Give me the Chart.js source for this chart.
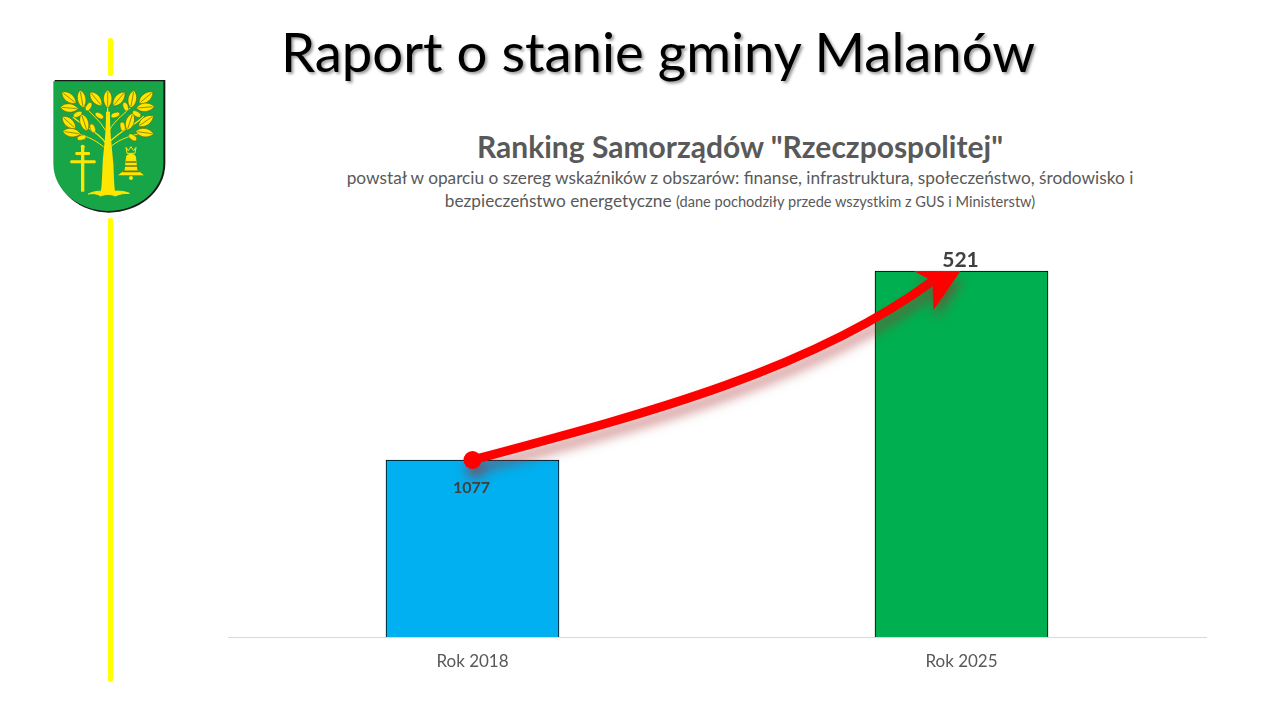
<!DOCTYPE html>
<html lang="pl">
<head>
<meta charset="utf-8">
<title>Raport o stanie gminy Malanów</title>
<script src="https://cdn.jsdelivr.net/npm/chart.js@4"></script>
<style>
    html, body { margin: 0; padding: 0; background: #fff; }
    body { position: relative; width: 1280px; height: 720px; overflow: hidden; font-family: Lato, sans-serif; }
    #wrap { position: absolute; left: 0; top: 0; width: 1280px; height: 720px; }
    .txt { position: absolute; white-space: nowrap; text-align: center; }
    #mainTitle { left: 240px; width: 836px; top: 20px; font-size: 54.5px; line-height: 62px; color: #000; text-shadow: 2px 2px 3px rgba(0,0,0,.4); }
    #chartTitle { left: 340px; width: 800px; top: 128px; font-size: 30px; line-height: 36px; font-weight: 700; color: #595959; }
    #sub1 { left: 340px; width: 800px; top: 166px; font-size: 17.25px; line-height: 24px; color: #595959; }
    #sub2 { left: 340px; width: 800px; top: 189px; font-size: 17.25px; line-height: 24px; color: #595959; }
    #sub2 small { font-size: 14.6px; }
    .yellow { position: absolute; left: 108px; width: 5px; background: #ffff00; border-radius: 2px; }
    #crest { position: absolute; left: 40px; top: 30px; width: 140px; height: 200px; }
</style>
</head>
<body>
<div class="yellow" style="top:38px;height:38px"></div>
<div class="yellow" style="top:218px;height:464px"></div>
<svg id="crest" viewBox="0 0 420 600">
    <defs>
        <g id="leaf"><path d="M-27 0 C-16 -17 14 -17 27 0 C14 17 -16 17 -27 0 Z" fill="#ffe600" stroke="#5f6e10" stroke-width="2"/><path d="M-22 0 L22 0" stroke="#5f6e10" stroke-width="2"/></g>
        <g id="nut"><ellipse rx="14" ry="7.5" fill="#ffe600" stroke="#5f6e10" stroke-width="1.5"/></g>
    </defs>
    <path d="M44 150 H376 V400 C376 490 290 548 207 548 C124 548 44 490 44 400 Z" fill="#1a1a1a"/>
    <path d="M40 154 H370 V400 C370 485 290 543 205 543 C120 543 40 485 40 400 Z" fill="#17a548"/>
    <g stroke="#ffe600" fill="none" stroke-linecap="round">
        <path d="M198 340 C170 300 130 290 100 262" stroke-width="4"/>
        <path d="M205 340 C240 300 280 290 310 260" stroke-width="4"/>
        <path d="M196 300 C180 270 150 250 130 225" stroke-width="3"/>
        <path d="M208 300 C225 270 255 250 280 225" stroke-width="3"/>
        <path d="M190 350 C160 325 130 315 100 308" stroke-width="3"/>
        <path d="M212 350 C240 325 280 315 310 308" stroke-width="3"/>
        <path d="M203 300 V220" stroke-width="4"/>
    </g>
    <path d="M198 245 L210 245 C210 320 216 345 220 400 C222 440 222 465 226 490 L182 490 C186 465 186 440 188 400 C192 345 198 320 198 245 Z" fill="#ffe600"/>
    <path d="M145 492 C165 482 185 482 205 486 C225 482 250 482 268 490 C250 490 238 492 226 498 C212 492 196 492 182 498 C170 490 158 490 145 492 Z" fill="#ffe600" stroke="#ffe600" stroke-width="3"/>
    <use href="#leaf" transform="translate(87,203) rotate(38)"/>
    <use href="#leaf" transform="translate(125,207) rotate(80)"/>
    <use href="#leaf" transform="translate(168,207) rotate(50)"/>
    <use href="#leaf" transform="translate(203,207) rotate(90)"/>
    <use href="#leaf" transform="translate(237,207) rotate(-50)"/>
    <use href="#leaf" transform="translate(277,207) rotate(-80)"/>
    <use href="#leaf" transform="translate(318,203) rotate(-40)"/>
    <use href="#leaf" transform="translate(88,234) rotate(5)"/>
    <use href="#leaf" transform="translate(316,232) rotate(-5)"/>
    <use href="#leaf" transform="translate(87,278) rotate(42)"/>
    <use href="#leaf" transform="translate(133,278) rotate(72)"/>
    <use href="#leaf" transform="translate(270,275) rotate(-72)"/>
    <use href="#leaf" transform="translate(318,273) rotate(-35)"/>
    <use href="#leaf" transform="translate(95,308) rotate(8)"/>
    <use href="#leaf" transform="translate(314,308) rotate(8)"/>
    <use href="#nut" transform="translate(146,230) rotate(-60)"/>
    <use href="#nut" transform="translate(113,253) rotate(-25)"/>
    <use href="#nut" transform="translate(178,257) rotate(30)"/>
    <use href="#nut" transform="translate(226,255) rotate(-20)"/>
    <use href="#nut" transform="translate(257,230) rotate(70)"/>
    <use href="#nut" transform="translate(290,252) rotate(30)"/>
    <use href="#nut" transform="translate(125,323) rotate(-15)"/>
    <use href="#nut" transform="translate(158,295) rotate(70)"/>
    <use href="#nut" transform="translate(248,290) rotate(80)"/>
    <use href="#nut" transform="translate(278,322) rotate(35)"/>
    <g fill="#ffe600">
        <rect x="123" y="348" width="10" height="137"/>
        <rect x="106" y="366" width="44" height="9" rx="3"/>
        <rect x="91" y="391" width="76" height="9" rx="3"/>
        <circle cx="128" cy="350" r="6"/>
        <path d="M258 382 C258 368 288 368 288 382 L292 420 L312 436 H234 L254 420 Z"/>
        <circle cx="273" cy="444" r="6"/>
    </g>
    <path d="M257 396 H289 M255 408 H291 M248 424 H298" stroke="#6b7a10" stroke-width="5"/>
    <path d="M258 352 L265 362 L273 350 L281 362 L288 352 L285 370 H261 Z" fill="none" stroke="#ffe600" stroke-width="3"/>
</svg>
<div id="mainTitle" class="txt">Raport o stanie gminy Malanów</div>
<div id="chartTitle" class="txt">Ranking Samorządów "Rzeczpospolitej"</div>
<div id="sub1" class="txt">powstał w oparciu o szereg wskaźników z obszarów: finanse, infrastruktura, społeczeństwo, środowisko i</div>
<div id="sub2" class="txt">bezpieczeństwo energetyczne <small>(dane pochodziły przede wszystkim z GUS i Ministerstw)</small></div>
<div id="wrap"><canvas id="rankChart" width="1280" height="720"></canvas></div>
<script>
// Dane: miejsce w rankingu (mniej = lepiej, dlatego oś jest odwrócona)
const categories = ['Rok 2018', 'Rok 2025'];
const ranks = [1077, 521];
const barColors = ['#00b0f0', '#00b050'];
const axisTop = 429.8;
const axisBottom = 1597.7;

// Etykiety wartości: 2018 w środku słupka, 2025 nad słupkiem
const valueLabels = {
    id: 'valueLabels',
    afterDatasetsDraw(chart) {
        const ctx = chart.ctx;
        const bars = chart.getDatasetMeta(0).data;
        ctx.save();
        ctx.textAlign = 'center';
        ctx.textBaseline = 'middle';
        ctx.fillStyle = '#404040';
        ctx.font = 'bold 16px Lato';
        ctx.fillText(ranks[0], bars[0].x - 1, bars[0].y + 28);
        ctx.font = 'bold 21px Lato';
        ctx.fillText(ranks[1], bars[1].x - 1, bars[1].y - 11);
        ctx.restore();
    }
};

// Czerwona strzałka od słupka 2018 do słupka 2025
const arrow = {
    id: 'arrow',
    afterDraw(chart) {
        const ctx = chart.ctx;
        const bars = chart.getDatasetMeta(0).data;
        const s = { x: bars[0].x, y: bars[0].y };
        const e = { x: bars[1].x - 1, y: bars[1].y };
        ctx.save();
        ctx.shadowColor = 'rgba(165,40,40,0.55)';
        ctx.shadowBlur = 12;
        ctx.shadowOffsetX = 2;
        ctx.shadowOffsetY = 9;
        ctx.strokeStyle = '#ff0000';
        ctx.fillStyle = '#ff0000';
        ctx.lineWidth = 9;
        ctx.beginPath();
        ctx.moveTo(s.x, s.y);
        ctx.bezierCurveTo(s.x + 168, s.y - 45, e.x - 150, e.y + 100, e.x - 28, e.y + 10);
        ctx.stroke();
        ctx.beginPath();
        ctx.moveTo(e.x, e.y);
        ctx.lineTo(e.x - 47, e.y);
        ctx.lineTo(e.x - 28, e.y + 10);
        ctx.lineTo(e.x - 27, e.y + 39);
        ctx.closePath();
        ctx.fill();
        ctx.beginPath();
        ctx.arc(s.x, s.y, 9, 0, Math.PI * 2);
        ctx.fill();
        ctx.restore();
    }
};

new Chart(document.getElementById('rankChart').getContext('2d'), {
    type: 'bar',
    data: {
        labels: categories,
        datasets: [{
            label: 'Miejsce w rankingu',
            data: ranks,
            base: axisBottom,
            backgroundColor: barColors,
            borderColor: '#000000',
            borderWidth: 1,
            barThickness: 173
        }]
    },
    options: {
        responsive: false,
        animation: false,
        layout: { padding: { left: 228, right: 74, top: 240, bottom: 46 } },
        plugins: { legend: { display: false }, tooltip: { enabled: false } },
        scales: {
            x: {
                grid: { display: false },
                border: { color: '#d9d9d9' },
                afterFit(scale) { scale.height = 37; },
                ticks: { color: '#595959', font: { family: 'Lato', size: 17 }, padding: 6, maxRotation: 0 }
            },
            y: {
                display: false,
                reverse: true,
                min: axisTop,
                max: axisBottom
            }
        }
    },
    plugins: [valueLabels, arrow]
});
</script>
</body>
</html>
